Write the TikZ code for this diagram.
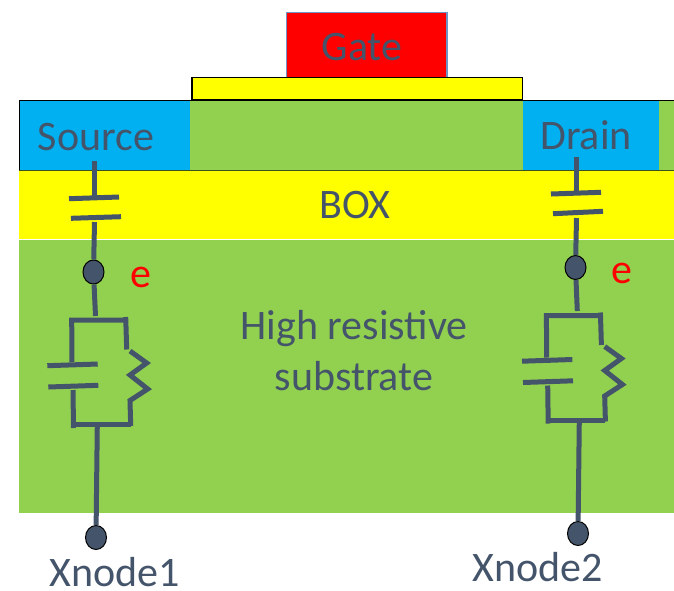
\documentclass[tikz,border=0pt]{standalone}
\usepackage{fontspec}
\setmainfont{Carlito}
\usetikzlibrary{shapes.geometric}
\definecolor{slate}{HTML}{44546A}
\definecolor{leaf}{HTML}{92D050}
\definecolor{sky}{HTML}{00B0F0}
\definecolor{oxide}{HTML}{FFFF00}
\definecolor{poly}{HTML}{FF0000}
\definecolor{rim}{HTML}{7094C4}
\begin{document}
\begin{tikzpicture}[
    x=1pt, y=-1pt,
    % Global styles
    wire/.style={draw=slate, line width=5pt},
    terminal/.style={ellipse, draw=black, fill=slate, line width=1pt, inner sep=0pt, minimum width=21pt, minimum height=24pt},
    lbl/.style={text=slate, inner sep=0pt, anchor=base, font=\fontsize{42}{51}\selectfont},
    tag/.style={text=poly, inner sep=0pt, anchor=base, font=\fontsize{42}{51}\selectfont}
    ]
    \useasboundingbox (0,0) rectangle (674,590);

    % ===========================
    % LAYERS
    % ===========================
    \fill[leaf] (19,100) rectangle (674,513);
    \fill[sky] (20,101) rectangle (190,170);
    \fill[sky] (523,101) rectangle (659,170);
    \fill[oxide] (19,171) rectangle (674,239);
    \draw[white, line width=0.6pt] (19,239.5) -- (674,239.5);
    \draw[black!60!leaf, line width=0.8pt] (19,170.5) -- (674,170.5);
    \draw[black, line width=1.5pt] (19.7,170) -- (19.7,100.3) -- (674,100.3);

    % Gate stack
    \draw[black, fill=oxide, line width=1.3pt] (192,77.5) rectangle (522.5,99.5);
    \draw[rim, fill=poly, line width=1.5pt] (286.5,77) -- (286.5,12.5) -- (447,12.5) -- (447,77);

    % Labels
    \node[lbl] (gate) at (362,60) {Gate};
    \node[lbl] (source) at (96,150) {Source};
    \node[lbl] (drain) at (586,149) {Drain};
    \node[lbl] (box) at (355,218) {BOX};
    \node[lbl, anchor=center, align=center] (sub) at (354,351) {High resistive\\substrate};
    \node[tag] (eL) at (141,287) {e};
    \node[tag] (eR) at (622,283) {e};

    % ===========================
    % LEFT BRANCH
    % ===========================

    % Nodes
    \coordinate (a1) at (94.5,161);
    \coordinate (a2) at (94.5,196);
    \coordinate (a3) at (69,198.7);
    \coordinate (a4) at (119,197);
    \coordinate (a5) at (71,218.3);
    \coordinate (a6) at (121,216.7);
    \coordinate (a7) at (94.5,222);
    \node[terminal] (eNodeL) at (93.5,272) {};
    \coordinate (a8) at (95.5,316);
    \coordinate (a9) at (97.3,424);
    \node[terminal] (xnodeA) at (96,537.5) {};
    \node[lbl] (xnodeAtxt) at (115,586) {Xnode1};

    % Edges
    \draw[wire] (a1) -- (a2);
    \draw[wire] (a3) -- (a4);
    \draw[wire] (a5) -- (a6);
    \draw[wire] (a7) -- (eNodeL);
    \draw[wire] (eNodeL) -- (a8);
    \draw[wire] (a9) -- (xnodeA);

    % Parallel capacitor and resistor
    \draw[wire] (72,362) -- (71.7,320) -- (126,320);
    \draw[wire] (125.7,317) -- (126.7,349.5);
    \draw[wire] (47.3,365.7) -- (97.7,364);
    \draw[wire] (48.3,387) -- (98.3,385.3);
    \draw[wire] (130,351) -- (146.7,363) -- (130,375) -- (147.7,389) -- (130,400.5) -- (130.7,426);
    \draw[wire] (73,390) -- (73.5,428);
    \draw[wire] (73.5,424.5) -- (130.7,424.5);

    % ===========================
    % RIGHT BRANCH
    % ===========================

    % Nodes
    \coordinate (b1) at (576.5,157);
    \coordinate (b2) at (576.5,192);
    \coordinate (b3) at (551,194);
    \coordinate (b4) at (601,192.3);
    \coordinate (b5) at (553,213.7);
    \coordinate (b6) at (603,211.3);
    \coordinate (b7) at (576.5,218);
    \node[terminal] (eNodeR) at (575.5,267.5) {};
    \coordinate (b8) at (577.3,311);
    \coordinate (b9) at (579.3,420);
    \node[terminal] (xnodeB) at (578,533.5) {};
    \node[lbl] (xnodeBtxt) at (538,581) {Xnode2};

    % Edges
    \draw[wire] (b1) -- (b2);
    \draw[wire] (b3) -- (b4);
    \draw[wire] (b5) -- (b6);
    \draw[wire] (b7) -- (eNodeR);
    \draw[wire] (eNodeR) -- (b8);
    \draw[wire] (b9) -- (xnodeB);

    % Shift coordinates of the left parallel part
    \begin{scope}[shift={(474.7,-4.5)}]
        \draw[wire] (72,362) -- (71.7,320) -- (126,320);
        \draw[wire] (125.7,317) -- (126.7,349.5);
        \draw[wire] (47.3,365.7) -- (97.7,364);
        \draw[wire] (48.3,387) -- (98.3,385.3);
        \draw[wire] (130,351) -- (146.7,363) -- (130,375) -- (147.7,389) -- (130,400.5) -- (130.7,426);
        \draw[wire] (73,390) -- (73.5,428);
        \draw[wire] (73.5,424.5) -- (130.7,424.5);
    \end{scope}

\end{tikzpicture}
\end{document}
